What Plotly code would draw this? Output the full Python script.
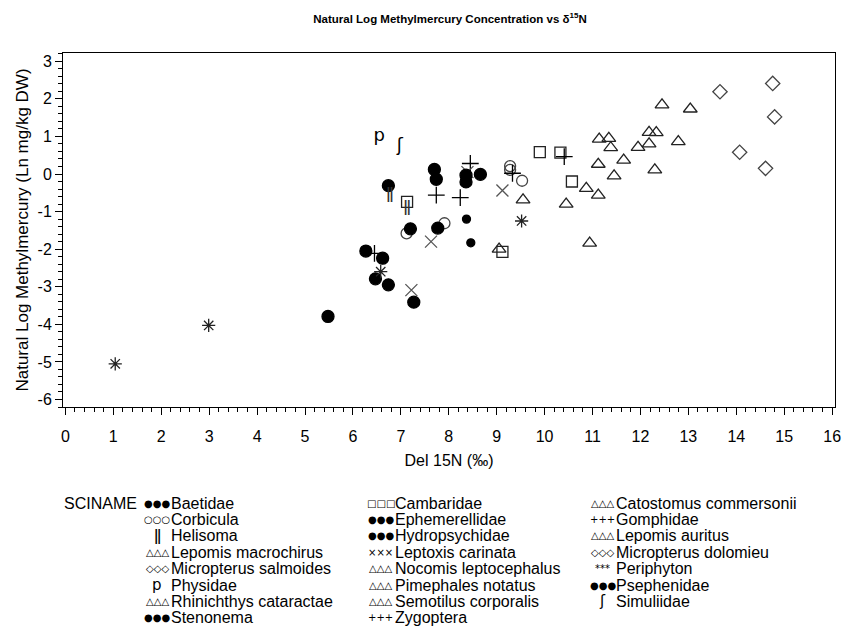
import plotly.graph_objects as go

# ---------------- data ----------------
species_names = [
    "Baetidae", "Cambaridae", "Catostomus commersonii",
    "Corbicula", "Ephemerellidae", "Gomphidae",
    "Helisoma", "Hydropsychidae", "Lepomis auritus",
    "Lepomis macrochirus", "Leptoxis carinata", "Micropterus dolomieu",
    "Micropterus salmoides", "Nocomis leptocephalus", "Periphyton",
    "Physidae", "Pimephales notatus", "Psephenidae",
    "Rhinichthys cataractae", "Semotilus corporalis", "Simuliidae",
    "Stenonema", "Zygoptera",
]

point_species = (
    ["Baetidae"] * 3
    + ["Cambaridae"] * 5
    + ["Catostomus commersonii"] * 3
    + ["Corbicula"] * 5
    + ["Ephemerellidae"] * 3
    + ["Gomphidae"] * 3
    + ["Helisoma"] * 2
    + ["Hydropsychidae"] * 2
    + ["Lepomis auritus"] * 4
    + ["Lepomis macrochirus"] * 4
    + ["Leptoxis carinata"] * 4
    + ["Micropterus dolomieu"] * 3
    + ["Micropterus salmoides"] * 2
    + ["Nocomis leptocephalus"] * 2
    + ["Periphyton"] * 4
    + ["Physidae"] * 1
    + ["Pimephales notatus"] * 3
    + ["Psephenidae"] * 5
    + ["Rhinichthys cataractae"] * 2
    + ["Semotilus corporalis"] * 2
    + ["Simuliidae"] * 1
    + ["Stenonema"] * 3
    + ["Zygoptera"] * 3
)

del15n = [
    6.47, 6.74, 7.27,                 # Baetidae
    7.13, 9.12, 9.90, 10.33, 10.57,   # Cambaridae
    12.45, 13.04, 12.79,              # Catostomus commersonii
    7.12, 7.91, 9.28, 9.28, 9.53,     # Corbicula
    7.70, 7.74, 6.74,                 # Ephemerellidae
    8.45, 9.33, 10.41,                # Gomphidae
    6.77, 7.13,                       # Helisoma
    8.37, 8.46,                       # Hydropsychidae
    12.18, 12.33, 12.18, 12.30,       # Lepomis auritus
    11.14, 11.34, 11.38, 11.95,       # Lepomis macrochirus
    8.39, 7.63, 9.12, 7.22,           # Leptoxis carinata
    14.76, 14.80, 13.66,              # Micropterus dolomieu
    14.07, 14.61,                     # Micropterus salmoides
    9.05, 9.55,                       # Nocomis leptocephalus
    1.04, 2.99, 6.58, 9.52,           # Periphyton
    6.55,                             # Physidae
    10.45, 10.87, 10.94,              # Pimephales notatus
    8.36, 8.36, 8.66, 7.20, 7.77,     # Psephenidae
    11.12, 11.45,                     # Rhinichthys cataractae
    11.12, 11.65,                     # Semotilus corporalis
    6.98,                             # Simuliidae
    5.48, 6.27, 6.62,                 # Stenonema
    7.74, 8.24, 6.45,                 # Zygoptera
]

ln_mehg = [
    -2.79, -2.95, -3.41,
    -0.74, -2.07, 0.58, 0.57, -0.20,
    1.84, 1.73, 0.86,
    -1.58, -1.31, 0.21, 0.11, -0.18,
    0.12, -0.14, -0.31,
    0.28, 0.02, 0.46,
    -0.56, -0.90,
    -1.20, -1.83,
    1.11, 1.10, 0.80, 0.11,
    0.93, 0.95, 0.70, 0.71,
    0.05, -1.80, -0.44, -3.09,
    2.41, 1.52, 2.19,
    0.58, 0.15,
    -2.00, -0.69,
    -5.05, -4.03, -2.60, -1.25,
    0.99,
    -0.80, -0.38, -1.84,
    -0.03, -0.21, -0.01, -1.46, -1.44,
    -0.56, -0.05,
    0.26, 0.37,
    0.74,
    -3.79, -2.05, -2.24,
    -0.56, -0.63, -2.11,
]

x_ticks = list(range(0, 17))
y_ticks = list(range(-6, 4))

# ---------------- styles ----------------
FILLED = dict(kind="marker", symbol="circle", size=12, color="black")
TRI = dict(kind="marker", symbol="triangle-up-open", size=12, color="#222222")
DIA = dict(kind="marker", symbol="diamond-open", size=11, color="#444444")
PLUS = dict(kind="marker", symbol="cross-thin-open", size=12, color="black")

STYLE = {
    "Baetidae": FILLED,
    "Cambaridae": dict(kind="marker", symbol="square-open", size=11, color="#222222"),
    "Catostomus commersonii": TRI,
    "Corbicula": dict(kind="marker", symbol="circle-open", size=11, color="#444444"),
    "Ephemerellidae": FILLED,
    "Gomphidae": PLUS,
    "Helisoma": dict(kind="text", glyph="\u01c1", size=16, color="#333333"),
    "Hydropsychidae": dict(kind="marker", symbol="circle", size=8, color="black"),
    "Lepomis auritus": TRI,
    "Lepomis macrochirus": TRI,
    "Leptoxis carinata": dict(kind="marker", symbol="x-thin-open", size=12, color="#555555"),
    "Micropterus dolomieu": DIA,
    "Micropterus salmoides": DIA,
    "Nocomis leptocephalus": TRI,
    "Periphyton": dict(kind="marker", symbol="asterisk-open", size=11, color="#222222"),
    "Physidae": dict(kind="text", glyph="p", size=18, color="black"),
    "Pimephales notatus": TRI,
    "Psephenidae": FILLED,
    "Rhinichthys cataractae": TRI,
    "Semotilus corporalis": TRI,
    "Simuliidae": dict(kind="text", glyph="\u0283", size=18, color="black"),
    "Stenonema": FILLED,
    "Zygoptera": PLUS,
}

LEGEND_GLYPH = {
    "marker-circle": "\u25cf\u25cf\u25cf",
    "marker-square-open": "\u25a1\u25a1\u25a1",
    "marker-triangle-up-open": "\u25b3\u25b3\u25b3",
    "marker-circle-open": "\u25cb\u25cb\u25cb",
    "marker-cross-thin-open": "+++",
    "marker-x-thin-open": "\u00d7\u00d7\u00d7",
    "marker-diamond-open": "\u25c7\u25c7\u25c7",
    "marker-asterisk-open": "***",
}

FONT = "Arial, Liberation Sans, sans-serif"

fig = go.Figure()

for name in species_names:
    xs = [x for s, x in zip(point_species, del15n) if s == name]
    ys = [y for s, y in zip(point_species, ln_mehg) if s == name]
    st = STYLE[name]
    if st["kind"] == "marker":
        fig.add_trace(go.Scatter(
            x=xs, y=ys, mode="markers", name=name, showlegend=False,
            marker=dict(symbol=st["symbol"], size=st["size"], color=st["color"],
                        line=dict(color=st["color"], width=1.3)),
        ))
    else:
        fig.add_trace(go.Scatter(
            x=xs, y=ys, mode="text", name=name, showlegend=False,
            text=[st["glyph"]] * len(xs), textposition="middle center",
            textfont=dict(size=st["size"], color=st["color"], family="DejaVu Sans"),
        ))

# ---------------- layout ----------------
# page body adds an 8px margin; positions below are in reference-page pixels
OFF = 8
L, R, T, B = 63, 840, 53, 407
W, H = 853 - OFF, 644 - OFF


def px_x(px):
    return (px - L) / (R - L)


def px_y(py):
    return (B - py) / (B - T)


annotations = [
    dict(text="SCINAME", x=px_x(62), y=px_y(503), xref="paper", yref="paper",
         xanchor="left", yanchor="middle", showarrow=False,
         font=dict(family=FONT, size=16, color="black")),
]
col_text_x = [170, 395, 618]
for i, name in enumerate(species_names):
    row, col = divmod(i, 3)
    ypix = 503 + 16.4 * row
    st = STYLE[name]
    if st["kind"] == "marker":
        glyph = LEGEND_GLYPH["marker-" + st["symbol"]]
        gsize = 10
    else:
        glyph = st["glyph"]
        gsize = 15
    annotations.append(dict(
        text=glyph, x=px_x(col_text_x[col] - 12), y=px_y(ypix),
        xref="paper", yref="paper", xanchor="center", yanchor="middle",
        showarrow=False, font=dict(family="DejaVu Sans", size=gsize, color="black"),
    ))
    annotations.append(dict(
        text=name, x=px_x(col_text_x[col]), y=px_y(ypix),
        xref="paper", yref="paper", xanchor="left", yanchor="middle",
        showarrow=False, font=dict(family=FONT, size=16, color="black"),
    ))

axis_common = dict(
    showline=True, linecolor="black", linewidth=1, mirror=True,
    ticks="outside", ticklen=7, tickwidth=1, tickcolor="black",
    showgrid=False, zeroline=False,
    tickfont=dict(family=FONT, size=16, color="black"),
)

fig.update_layout(
    width=W, height=H,
    margin=dict(l=L - OFF, r=853 - R, t=T - OFF, b=644 - B),
    paper_bgcolor="white", plot_bgcolor="white",
    font=dict(family=FONT, color="black"),
    title=dict(
        text="<b>Natural Log Methylmercury Concentration vs \u03b4<sup>15</sup>N</b>",
        x=(450 - OFF) / W, xanchor="center",
        y=1 - (19 - OFF) / H, yanchor="middle", yref="container",
        font=dict(family=FONT, size=11.5, color="black"),
    ),
    xaxis=dict(
        range=[-0.05, 16.06], tickvals=x_ticks, ticktext=[str(v) for v in x_ticks],
        minor=dict(dtick=0.2, ticks="outside", ticklen=4, tickcolor="black"),
        title=dict(text="Del 15N (\u2030)", font=dict(family=FONT, size=16), standoff=10),
        ticklabelstandoff=8,
        **axis_common,
    ),
    yaxis=dict(
        range=[-6.2, 3.22], tickvals=y_ticks, ticktext=[str(v) for v in y_ticks],
        minor=dict(dtick=0.2, ticks="outside", ticklen=4, tickcolor="black"),
        title=dict(text="Natural Log Methylmercury (Ln mg/kg DW)",
                   font=dict(family=FONT, size=17), standoff=4),
        **axis_common,
    ),
    annotations=annotations,
)

fig.write_html("out.html")
